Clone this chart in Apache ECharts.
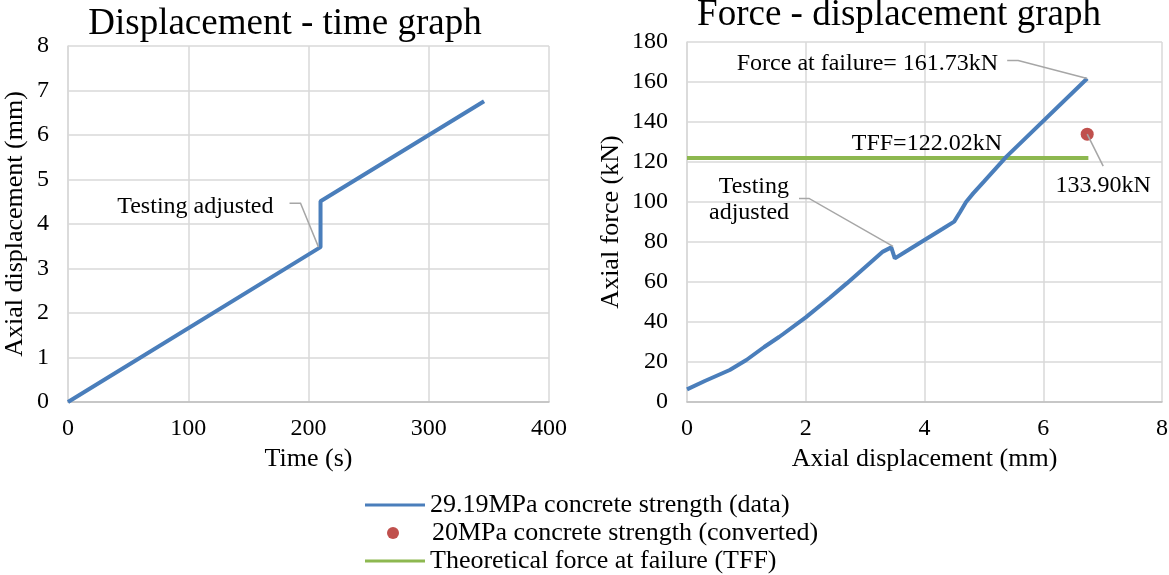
<!DOCTYPE html>
<html><head><meta charset="utf-8">
<script src="https://cdn.jsdelivr.net/npm/echarts@6/dist/echarts.min.js"></script>
<style>html,body{margin:0;padding:0;background:#fff}#c{width:1169px;height:575px}</style>
</head><body><div id="c"></div>
<script>
// Displacement - time graph
const timeS = [0, 210, 210, 346];
const dispMm = [0, 3.48, 4.51, 6.76];
// Force - displacement graph
const fdDisp = [0, 0.3, 0.72, 1.0, 1.3, 1.55, 1.62, 2.0, 2.4, 2.69, 3.0, 3.3, 3.44, 3.47, 3.50, 3.7, 4.0, 4.3, 4.5, 4.6, 4.7, 4.82, 5.0, 5.38, 6.74];
const fdForce = [6.3, 10.5, 16, 21, 27.5, 32.5, 34, 42.3, 52, 59.3, 67.4, 75.2, 77.3, 77.8, 71.8, 75.5, 81, 86.5, 90.2, 95, 100, 104.3, 110.2, 122.7, 161.73];
const convDisp = [6.74];
const convForce = [133.90];
const tffDisp = [0, 6.76];
const tffForce = [122.02, 122.02];
// axis ranges
const timeAxis = {min: 0, max: 400, interval: 100};
const dispAxis = {min: 0, max: 8, interval: 1};
const fdXAxis = {min: 0, max: 8, interval: 2};
const fdYAxis = {min: 0, max: 180, interval: 20};
const names = ['29.19MPa concrete strength (data)', '20MPa concrete strength (converted)', 'Theoretical force at failure (TFF)'];
const titles = ['Displacement - time graph', 'Force - displacement graph'];
const axisNames = ['Time (s)', 'Axial displacement (mm)', 'Axial displacement (mm)', 'Axial force (kN)'];

const FONT = "'Liberation Serif', 'Times New Roman', serif";
const BLUE = '#4a7ebb', GREEN = '#8db850', RED = '#c0504d', GRID = '#d9d9d9';

function zip(a, b) { return a.map((v, i) => [v, b[i]]); }

function xAx(r, name, gi) {
  return {type: 'value', gridIndex: gi, min: r.min, max: r.max, interval: r.interval,
    name: name, nameLocation: 'middle', nameGap: 35,
    nameTextStyle: {fontFamily: FONT, fontSize: 26, color: '#000'},
    axisLine: {show: true, lineStyle: {color: '#bfbfbf', width: 1.5}},
    axisTick: {show: false},
    axisLabel: {fontFamily: FONT, fontSize: 24, color: '#000', margin: 15},
    splitLine: {show: true, lineStyle: {color: GRID, width: 1.5}}};
}
function yAx(r, name, gi, gap) {
  return {type: 'value', gridIndex: gi, min: r.min, max: r.max, interval: r.interval,
    name: name, nameLocation: 'middle', nameGap: gap,
    nameTextStyle: {fontFamily: FONT, fontSize: 26, color: '#000'},
    axisLine: {show: true, lineStyle: {color: GRID, width: 1.5}},
    axisTick: {show: false},
    axisLabel: {fontFamily: FONT, fontSize: 24, color: '#000', margin: 19},
    splitLine: {show: true, lineStyle: {color: GRID, width: 1.5}}};
}
function lg(name, left, top, icon, w, h, padLeft) {
  return {orient: 'vertical', left: left, top: top, padding: 0, itemWidth: w, itemHeight: h,
    icon: icon, selectedMode: false,
    textStyle: {fontFamily: FONT, fontSize: 26, color: '#000', padding: [0, 0, 0, padLeft]},
    data: [name]};
}

const chart = echarts.init(document.getElementById('c'), null, {renderer: 'canvas'});
chart.setOption({
  animation: false,
  backgroundColor: '#fff',
  title: [
    {text: titles[0], left: 280, top: 1, textAlign: 'center', textStyle: {fontFamily: FONT, fontSize: 37, fontWeight: 'normal', color: '#000'}},
    {text: titles[1], left: 894, top: -8, textAlign: 'center', textStyle: {fontFamily: FONT, fontSize: 37, fontWeight: 'normal', color: '#000'}}
  ],
  grid: [
    {left: 68, right: 620, top: 46, bottom: 173, outerBoundsMode: 'none', containLabel: false},
    {left: 687, right: 7, top: 42, bottom: 173, outerBoundsMode: 'none', containLabel: false}
  ],
  xAxis: [xAx(timeAxis, axisNames[0], 0), xAx(fdXAxis, axisNames[2], 1)],
  yAxis: [yAx(dispAxis, axisNames[1], 0, 40), yAx(fdYAxis, axisNames[3], 1, 63)],
  legend: [
    lg(names[0], 365, 492, 'rect', 60, 3, 0),
    lg(names[1], 387, 520, 'circle', 12, 12, 28),
    lg(names[2], 365, 548, 'rect', 60, 3, 0)
  ],
  series: [
    {name: names[0], type: 'line', xAxisIndex: 0, yAxisIndex: 0, data: zip(timeS, dispMm),
      symbol: 'none', lineStyle: {color: BLUE, width: 4}, itemStyle: {color: BLUE}},
    {name: names[0], type: 'line', xAxisIndex: 1, yAxisIndex: 1, data: zip(fdDisp, fdForce),
      symbol: 'none', lineStyle: {color: BLUE, width: 4}, itemStyle: {color: BLUE}},
    {name: names[2], type: 'line', xAxisIndex: 1, yAxisIndex: 1, data: zip(tffDisp, tffForce),
      symbol: 'none', lineStyle: {color: GREEN, width: 4}, itemStyle: {color: GREEN}, z: 1},
    {name: names[1], type: 'scatter', xAxisIndex: 1, yAxisIndex: 1, data: zip(convDisp, convForce),
      symbolSize: 13, itemStyle: {color: RED, opacity: 1}, z: 3}
  ]
});

// annotations anchored to data points
function px(gi, p) { return chart.convertToPixel({gridIndex: gi}, p); }
const ts = {fontFamily: FONT, fontSize: 24, fill: '#000'};
const LEAD = {stroke: '#a6a6a6', lineWidth: 1.5, fill: null};
const g = [];
function leader(a, pts) {
  g.push({type: 'polyline', shape: {points: pts.map(o => [a[0] + o[0], a[1] + o[1]])}, style: LEAD, z: 10});
}
function label(a, dx, dy, text, align) {
  g.push({type: 'text', x: a[0] + dx, y: a[1] + dy, style: Object.assign({text: text, align: align, verticalAlign: 'middle', lineHeight: 26}, ts), z: 10});
}
// Left: testing adjusted
let a = px(0, [timeS[1], dispMm[1]]);
leader(a, [[-31, -44], [-20, -44], [-2, 0]]);
label(a, -47, -40, 'Testing adjusted', 'right');
// Right: force at failure
const last = fdDisp.length - 1;
a = px(1, [fdDisp[last], fdForce[last]]);
leader(a, [[-80, -18], [-69, -18], [0, 0]]);
label(a, -89, -15, 'Force at failure= ' + fdForce[last].toFixed(2) + 'kN', 'right');
// Right: converted point
a = px(1, [convDisp[0], convForce[0]]);
leader(a, [[0, 0], [16, 32]]);
label(a, 16, 52, convForce[0].toFixed(2) + 'kN', 'center');
// Right: TFF label
a = px(1, [4.04, tffForce[0]]);
label(a, 0, -14, 'TFF=' + tffForce[0].toFixed(2) + 'kN', 'center');
// Right: testing adjusted
a = px(1, [fdDisp[13], fdForce[13]]);
leader(a, [[-94, -48], [-84, -48], [0, 0]]);
label(a, -104, -47, 'Testing\nadjusted', 'right');
chart.setOption({graphic: g});
</script>
</body></html>
